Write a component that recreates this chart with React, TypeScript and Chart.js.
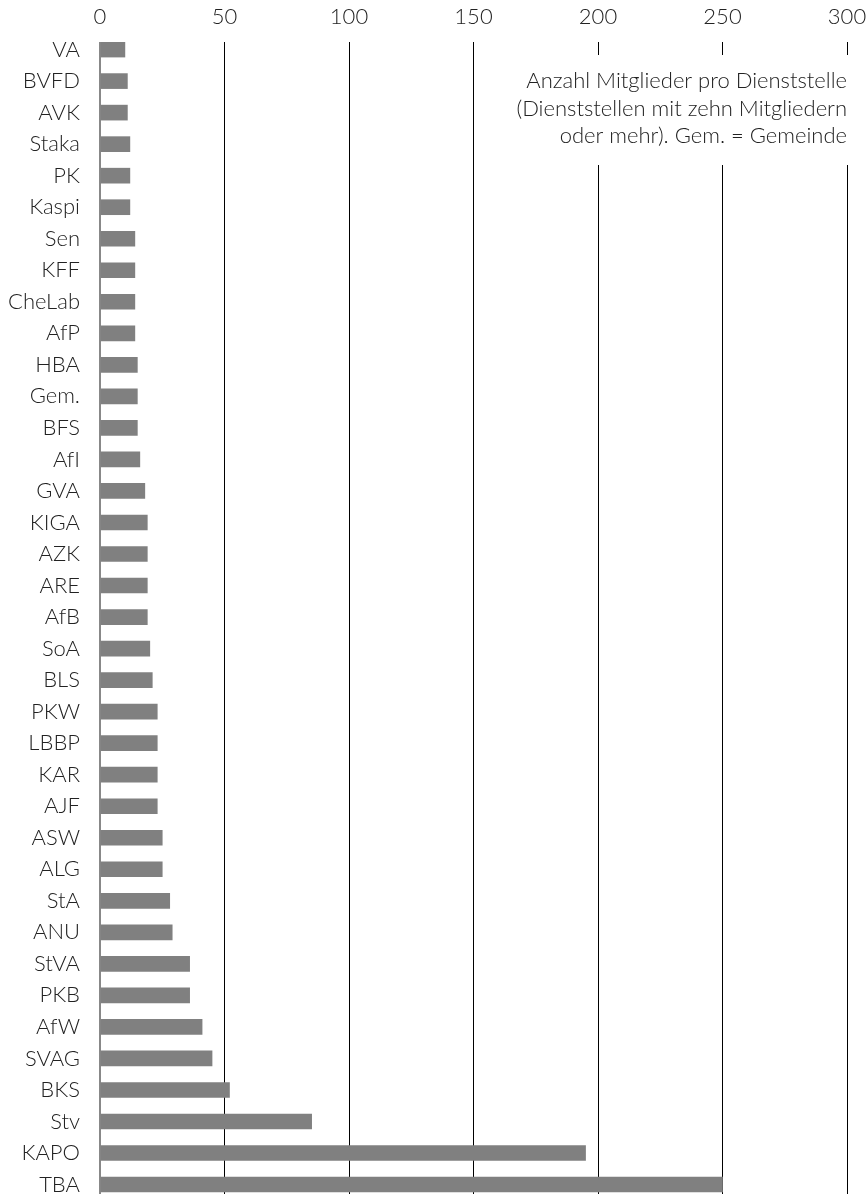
import React, { useEffect, useRef } from "react";
import { Chart, registerables } from "chart.js";

Chart.register(...registerables);

const categories = ["VA","BVFD","AVK","Staka","PK","Kaspi","Sen","KFF","CheLab","AfP","HBA","Gem.","BFS","AfI","GVA","KIGA","AZK","ARE","AfB","SoA","BLS","PKW","LBBP","KAR","AJF","ASW","ALG","StA","ANU","StVA","PKB","AfW","SVAG","BKS","Stv","KAPO","TBA"];
const members = [10,11,11,12,12,12,14,14,14,14,15,15,15,16,18,19,19,19,19,20,21,23,23,23,23,25,25,28,29,36,36,41,45,52,85,195,250];
const xTicks = [0, 50, 100, 150, 200, 250, 300];
const noteLines = [
  "Anzahl Mitglieder pro Dienststelle",
  "(Dienststellen mit zehn Mitgliedern",
  "oder mehr). Gem. = Gemeinde",
];

const FONT = "Lato, 'Open Sans', sans-serif";
const FONT_SIZE = 22;

const notePlugin = {
  id: "note",
  afterDraw(chart: any) {
    const { ctx, chartArea } = chart;
    ctx.save();
    ctx.fillStyle = "#ffffff";
    ctx.fillRect(495, 55, chartArea.right - 495 + 10, 110);
    ctx.fillStyle = "#222222";
    ctx.font = `300 ${FONT_SIZE}px ${FONT}`;
    ctx.textAlign = "right";
    ctx.textBaseline = "middle";
    noteLines.forEach((line, i) => {
      ctx.fillText(line, chartArea.right, 81 + i * 27.5);
    });
    ctx.restore();
  },
};

export default function App() {
  const ref = useRef<HTMLCanvasElement | null>(null);
  useEffect(() => {
    if (!ref.current) return;
    const chart = new Chart(ref.current, {
      type: "bar",
      data: {
        datasets: [
          {
            data: members.map((v, i) => ({ x: v, y: i })),
            backgroundColor: "#808080",
            borderWidth: 0,
            barThickness: 15,
          },
        ],
      },
      options: {
        indexAxis: "y",
        animation: false,
        responsive: false,
        maintainAspectRatio: false,
        layout: { padding: { left: 0, right: 21, top: 0, bottom: 0 } },
        plugins: { legend: { display: false }, tooltip: { enabled: false } },
        scales: {
          x: {
            type: "linear",
            position: "top",
            min: 0,
            max: 300,
            z: 1,
            afterBuildTicks: (scale: any) => {
              scale.ticks = xTicks.map((v) => ({ value: v }));
            },
            afterFit: (scale: any) => {
              scale.height = 42;
              scale.paddingLeft = 0;
              scale.paddingRight = 0;
            },
            border: { display: false },
            grid: {
              drawTicks: false,
              color: (c: any) => (c.tick && c.tick.value === 0 ? "#888888" : "#000000"),
              lineWidth: (c: any) => (c.tick && c.tick.value === 0 ? 2 : 1),
            },
            ticks: {
              padding: 12,
              color: "#222222",
              font: { family: FONT, size: FONT_SIZE, weight: 300 },
            },
          },
          y: {
            type: "linear",
            reverse: true,
            offset: false,
            min: -0.24,
            max: 36.3,
            afterBuildTicks: (scale: any) => {
              scale.ticks = categories.map((_, i) => ({ value: i }));
            },
            afterFit: (scale: any) => {
              scale.width = 100;
              scale.paddingTop = 0;
              scale.paddingBottom = 0;
            },
            border: { display: false },
            grid: { display: false, drawTicks: false, offset: false },
            ticks: {
              padding: 20,
              color: "#222222",
              autoSkip: false,
              font: { family: FONT, size: FONT_SIZE, weight: 300 },
              callback: (v: any) => categories[Math.round(Number(v))] ?? "",
            },
          },
        },
      },
      plugins: [notePlugin],
    });
    return () => chart.destroy();
  }, []);
  return (
    <div style={{ position: "fixed", left: 0, top: 0, width: 868, height: 1194, background: "#fff" }}>
      <canvas ref={ref} width={868} height={1194} style={{ width: 868, height: 1194, display: "block" }} />
    </div>
  );
}
